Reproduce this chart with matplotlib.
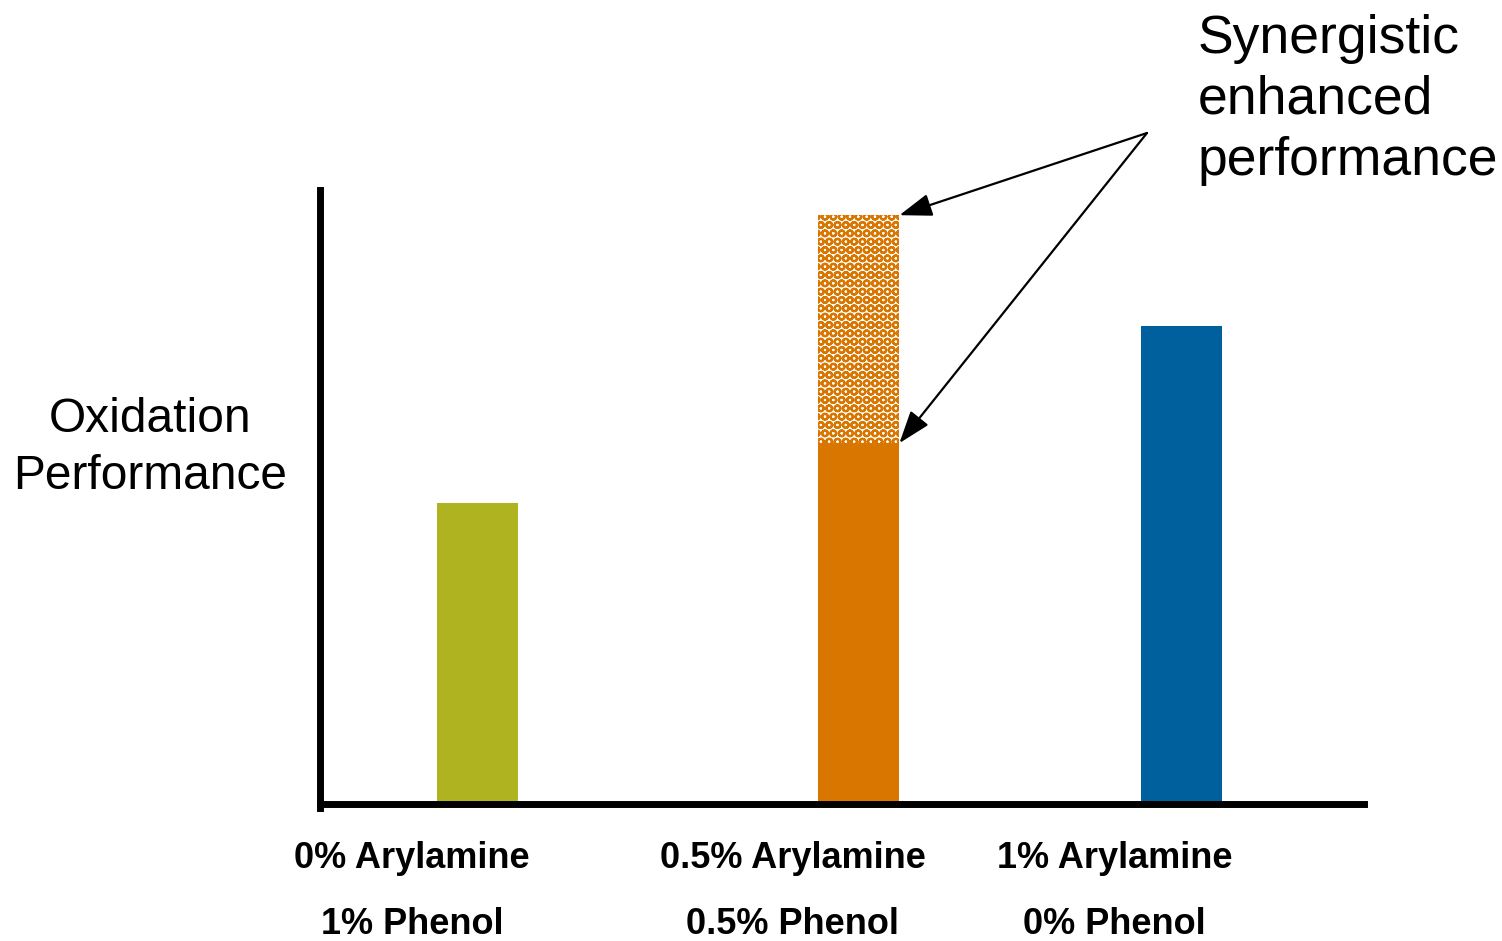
import numpy as np
import matplotlib
matplotlib.use("Agg")
import matplotlib.pyplot as plt
import matplotlib.transforms as mtransforms

plt.rcParams['font.family'] = ['Liberation Sans', 'DejaVu Sans']
plt.rcParams['hatch.linewidth'] = 1.6

# schematic values (arbitrary units)
amine_labels = ["0% Arylamine", "0.5% Arylamine", "1% Arylamine"]
phenol_labels = ["1% Phenol", "0.5% Phenol", "0% Phenol"]
bar_pos = [1.51, 5.16, 8.25]
label_pos = [0.88, 4.53, 7.61]
base_vals = [49.0, 58.8, 77.9]
synergy_vals = [0.0, 37.1, 0.0]
colors = ["#AFB320", "#D97600", "#00609D"]

fig = plt.figure(figsize=(15.02, 9.41), dpi=100)
ax = fig.add_axes([320/1502, 133/941, 1044/1502, 618/941])

ax.bar(bar_pos, base_vals, width=0.78, color=colors, zorder=1)
ax.bar(bar_pos[1], synergy_vals[1], width=0.78, bottom=base_vals[1],
       facecolor="white", edgecolor=colors[1], hatch="OO", linewidth=0, zorder=1)

ax.set_xlim(0, 10)
ax.set_ylim(-0.6, 100)
for s in ["top", "right"]:
    ax.spines[s].set_visible(False)
ax.spines["left"].set_linewidth(5)
ax.spines["bottom"].set_linewidth(5)
ax.spines["bottom"].set_position(("data", 0))
ax.spines["bottom"].set_zorder(3)
ax.set_xticks([])
ax.set_yticks([])

# category labels under the axis, two rows
trans = mtransforms.blended_transform_factory(ax.transData, fig.transFigure)
for x, a, p in zip(label_pos, amine_labels, phenol_labels):
    ax.text(x, 1 - 858/941, a, transform=trans, ha="center", va="center",
            fontsize=26, fontweight="bold", clip_on=False)
    ax.text(x, 1 - 925/941, p, transform=trans, ha="center", va="center",
            fontsize=26, fontweight="bold", clip_on=False)

fig.text(150/1502, 1 - 448/941, "Oxidation\nPerformance", ha="center", va="center",
         fontsize=34.5, linespacing=1.32)

# callout with two arrows
txt_xy = (1147/1502, 1 - 133/941)
for y in [base_vals[1] + synergy_vals[1], base_vals[1]]:
    ax.annotate("", xy=(bar_pos[1] + 0.39, y), xycoords="data",
                xytext=txt_xy, textcoords="figure fraction",
                arrowprops=dict(arrowstyle="-|>,head_length=2.0,head_width=0.7",
                                color="black", lw=1.6, shrinkA=0, shrinkB=0))
fig.text(1198/1502, 1 - 100/941, "Synergistic\nenhanced\nperformance", ha="left", va="center",
         fontsize=38.5, linespacing=1.29)

fig.savefig("out.png", dpi=100, facecolor="white")
